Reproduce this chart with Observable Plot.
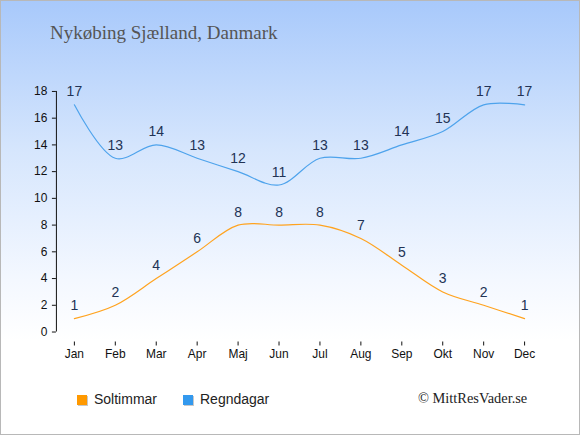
<!DOCTYPE html>
<html>
<head>
<meta charset="utf-8">
<script src="https://cdn.jsdelivr.net/npm/d3@7"></script>
<script src="https://cdn.jsdelivr.net/npm/@observablehq/plot@0.6"></script>
<style>
  html, body { margin: 0; padding: 0; }
  #wrap {
    position: relative; width: 578px; height: 433px;
    border: 1px solid #b8b8b8;
    background: linear-gradient(to bottom, #a8c9fb 0px, #d6e6fd 150px, #f4f8ff 280px, #ffffff 340px, #ffffff 100%);
    overflow: hidden;
  }
  #title {
    position: absolute; left: 49px; top: 21px;
    font-family: "Liberation Serif", serif; font-size: 19px; color: #555;
  }
  #chart { position: absolute; left: -1px; top: 59px; }
  .leg { position: absolute; top: 390px; font-family: "Liberation Sans", Arial, sans-serif; font-size: 14px; color: #222; }
  .sw { display: inline-block; width: 10px; height: 10px; margin-right: 7px; vertical-align: -1px; box-shadow: 1px 1px 0 #c8c8c8; }
  #copy { position: absolute; left: 417px; top: 389px; font-family: "Liberation Serif", serif; font-size: 14.4px; color: #222; }
</style>
</head>
<body>
<div id="wrap">
  <div id="title">Nykøbing Sjælland, Danmark</div>
  <div id="chart"></div>
  <div class="leg" style="left:76px"><span class="sw" style="background:#ff9900"></span>Soltimmar</div>
  <div class="leg" style="left:182px"><span class="sw" style="background:#3399ee"></span>Regndagar</div>
  <div id="copy">© MittResVader.se</div>
</div>
<script>
const months = ["Jan","Feb","Mar","Apr","Maj","Jun","Jul","Aug","Sep","Okt","Nov","Dec"];
const soltimmar = [1,2,4,6,8,8,8,7,5,3,2,1];
const regndagar = [17,13,14,13,12,11,13,13,14,15,17,17];
const yTicks = [0,2,4,6,8,10,12,14,16,18];

const sun = months.map((m, i) => ({month: m, value: soltimmar[i]}));
const rain = months.map((m, i) => ({month: m, value: regndagar[i]}));

const font = "'Liberation Sans', Arial, sans-serif";

const plot = Plot.plot({
  width: 580,
  height: 310,
  marginLeft: 74,
  marginRight: 55,
  marginTop: 31,
  marginBottom: 38,
  style: {background: "transparent", fontFamily: font, fontSize: "12px", color: "#111", overflow: "visible"},
  x: {type: "point", domain: months, padding: 0, round: false, label: null},
  y: {domain: [0, 18], label: null},
  marks: [
    Plot.ruleX([months[0]], {y1: 0, y2: 18, dx: -18, stroke: "#111", strokeWidth: 1}),
    Plot.ruleY([0], {x1: months[0], x2: months[months.length - 1], dy: 10, stroke: "#111", strokeWidth: 1}),
    Plot.axisY({ticks: yTicks, dx: -18, tickSize: 4, tickPadding: 5, label: null, fontSize: 12, fill: "#111"}),
    Plot.axisX({dy: 10, tickSize: 4, tickPadding: 3, label: null, fontSize: 12, fill: "#111"}),
    Plot.lineY(sun, {x: "month", y: "value", stroke: "#ffa31f", strokeWidth: 1.2, curve: "catmull-rom"}),
    Plot.lineY(rain, {x: "month", y: "value", stroke: "#4ea3ec", strokeWidth: 1.2, curve: "catmull-rom"}),
    Plot.text(sun, {x: "month", y: "value", text: d => String(d.value), dy: -13, fill: "#223355", fontSize: 14, fontFamily: font}),
    Plot.text(rain, {x: "month", y: "value", text: d => String(d.value), dy: -13, fill: "#223355", fontSize: 14, fontFamily: font})
  ]
});
document.getElementById("chart").appendChild(plot);
</script>
</body>
</html>
